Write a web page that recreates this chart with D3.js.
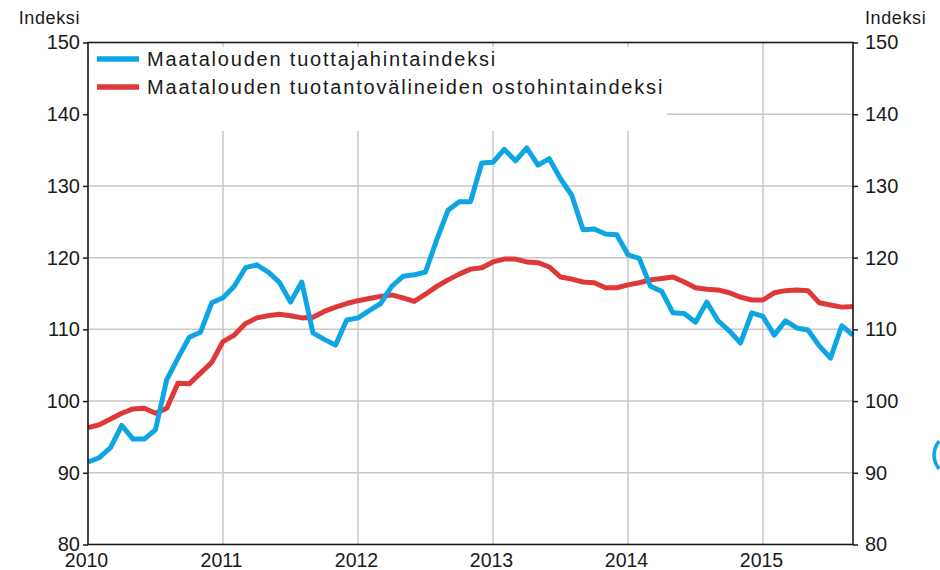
<!DOCTYPE html>
<html><head><meta charset="utf-8">
<script src="https://cdn.jsdelivr.net/npm/d3@7"></script>
<style>
body{margin:0;background:#fff}
svg{display:block}
text{font-family:"Liberation Sans",Arial,sans-serif;fill:#1a1a1a}
</style>
</head><body><svg id="c" width="940" height="570"></svg>
<script>
// ---- data ----
const years = ["2010","2011","2012","2013","2014","2015"];
const yTicks = [80, 90, 100, 110, 120, 130, 140, 150];
const axisTitle = "Indeksi";
const seriesNames = ["Maatalouden tuottajahintaindeksi", "Maatalouden tuotantovälineiden ostohintaindeksi"];
// monthly, 2010M01 .. 2015M09
const producer = [
  91.5, 92.1, 93.5, 96.6, 94.7, 94.7, 96.0, 103.0, 106.0, 108.9, 109.6, 113.7,
  114.4, 116.0, 118.6, 119.0, 118.0, 116.6, 113.8, 116.6, 109.5, 108.6, 107.8, 111.3,
  111.6, 112.6, 113.6, 116.0, 117.4, 117.6, 118.0, 122.5, 126.6, 127.8, 127.8, 133.2,
  133.3, 135.1, 133.5, 135.3, 132.9, 133.8, 131.0, 128.7, 123.9, 124.0, 123.3, 123.2,
  120.4, 119.9, 116.0, 115.3, 112.3, 112.2, 111.0, 113.8, 111.2, 109.8, 108.1, 112.3,
  111.8, 109.2, 111.2, 110.2, 109.9, 107.7, 106.0, 110.5, 109.2
];
const inputs = [
  96.3, 96.7, 97.5, 98.3, 98.9, 99.0, 98.3, 99.0, 102.5, 102.4, 103.9, 105.4,
  108.3, 109.2, 110.8, 111.6, 111.9, 112.1, 111.9, 111.6, 111.7, 112.5, 113.1, 113.6,
  114.0, 114.3, 114.6, 114.8, 114.4, 113.9, 114.9, 116.0, 116.9, 117.7, 118.4, 118.6,
  119.4, 119.8, 119.8, 119.4, 119.3, 118.7, 117.3, 117.0, 116.6, 116.5, 115.8, 115.8,
  116.2, 116.5, 116.9, 117.1, 117.3, 116.6, 115.8, 115.6, 115.5, 115.1, 114.5, 114.1,
  114.1, 115.1, 115.4, 115.5, 115.4, 113.7, 113.4, 113.1, 113.2
];
const colors = ["#0ea5e4", "#de3838"];

// ---- layout ----
const svg = d3.select("#c");
const L = 88, R = 853, T = 42.5, B = 544.5;
const x = d3.scaleLinear().domain([0, producer.length - 1]).range([L, R]);
const y = d3.scaleLinear().domain([80, 150]).range([B, T]);
const yearIdx = years.map((d, i) => i * 12);

svg.append("rect").attr("width", 940).attr("height", 570).attr("fill", "#fff");

// gridlines
const grid = svg.append("g").attr("stroke", "#c9c9c9").attr("stroke-width", 1.5);
grid.selectAll("line.h").data(yTicks.filter(v => v > 80 && v < 150)).join("line")
  .attr("x1", L).attr("x2", R).attr("y1", d => y(d)).attr("y2", d => y(d));
grid.selectAll("line.v").data(yearIdx.filter(v => v > 0)).join("line")
  .attr("x1", d => x(d)).attr("x2", d => x(d)).attr("y1", T).attr("y2", B);

// legend background
svg.append("rect").attr("x", L + 1).attr("y", 47).attr("width", 667 - L - 1).attr("height", 84).attr("fill", "#fff");

// lines
const line = d3.line().x((d, i) => x(i)).y(d => y(d));
[producer, inputs].reverse().forEach((s, k) => {
  svg.append("path").datum(s).attr("d", line)
    .attr("fill", "none").attr("stroke", colors[1 - k])
    .attr("stroke-width", 5).attr("stroke-linejoin", "round");
});

// frame
svg.append("rect").attr("x", L).attr("y", T).attr("width", R - L).attr("height", B - T)
  .attr("fill", "none").attr("stroke", "#1a1a1a").attr("stroke-width", 1.6);

// axes
const left = svg.append("g").attr("transform", `translate(${L},0)`)
  .call(d3.axisLeft(y).tickValues(yTicks).tickSize(5).tickPadding(3).tickFormat(d3.format("d")));
const right = svg.append("g").attr("transform", `translate(${R},0)`)
  .call(d3.axisRight(y).tickValues(yTicks).tickSize(5).tickPadding(7).tickFormat(d3.format("d")));
const bottom = svg.append("g").attr("transform", `translate(0,${B})`)
  .call(d3.axisBottom(x).tickValues(yearIdx).tickSize(0).tickFormat((d, i) => years[i]));
[left, right, bottom].forEach(g => {
  g.select(".domain").remove();
  g.selectAll(".tick line").attr("stroke", "#1a1a1a").attr("stroke-width", 1.5);
  g.selectAll(".tick text").attr("font-size", 20).attr("font-family", '"Liberation Sans",Arial,sans-serif').attr("fill", "#1a1a1a");
});
bottom.selectAll(".tick text").attr("y", 22).attr("dy", 0).attr("dx", -2).attr("font-size", 19.5);

// axis titles
svg.append("text").attr("x", 80).attr("y", 24).attr("text-anchor", "end")
  .attr("font-size", 18).attr("letter-spacing", 0.6).text(axisTitle);
svg.append("text").attr("x", 865).attr("y", 24).attr("text-anchor", "start")
  .attr("font-size", 18).attr("letter-spacing", 0.6).text(axisTitle);

// legend
const leg = svg.append("g");
seriesNames.forEach((n, i) => {
  const cy = 59 + i * 28;
  leg.append("line").attr("x1", 97).attr("x2", 139).attr("y1", cy).attr("y2", cy)
    .attr("stroke", colors[i]).attr("stroke-width", 5.5);
  leg.append("text").attr("x", 147).attr("y", cy).attr("dy", "0.36em")
    .attr("font-size", 20).attr("letter-spacing", 1.8).text(n);
});

// small blue artifact at right edge
svg.append("path").attr("d", "M939,441 Q929,455 939,469").attr("fill", "none")
  .attr("stroke", "#0ea5e4").attr("stroke-width", 3.5);
</script>
</body></html>
